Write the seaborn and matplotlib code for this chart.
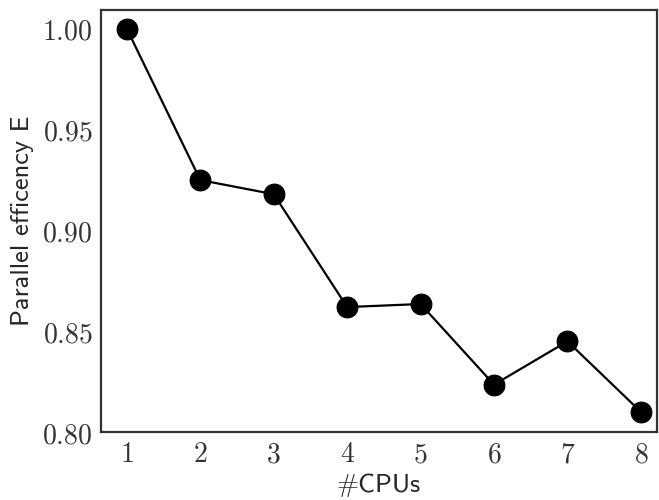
import matplotlib
matplotlib.use("Agg")
import matplotlib.pyplot as plt
import seaborn as sns
import pandas as pd

cpus = [1, 2, 3, 4, 5, 6, 7, 8]
efficiency = [1.000, 0.925, 0.918, 0.862, 0.8635, 0.8235, 0.845, 0.810]

sns.set_style("white")
plt.rcParams["mathtext.fontset"] = "cm"
plt.rcParams["axes.edgecolor"] = "#333333"
plt.rcParams["axes.linewidth"] = 1.6

df = pd.DataFrame({"cpus": cpus, "eff": efficiency})

fig, ax = plt.subplots(figsize=(6.59, 5.0), dpi=100)
sns.lineplot(data=df, x="cpus", y="eff", marker="o", color="black",
             markersize=15, linewidth=1.6, markeredgecolor="black", ax=ax)

ax.set_xlim(0.645, 8.22)
ax.set_ylim(0.80, 1.0094)
ax.set_xticks(cpus)
ax.set_yticks([0.80, 0.85, 0.90, 0.95, 1.00])
ax.set_xticklabels([f"${c}$" for c in cpus], fontsize=20)
ax.set_yticklabels([f"${v:.2f}$" for v in [0.80, 0.85, 0.90, 0.95, 1.00]], fontsize=20)
ax.tick_params(length=0, pad=6, colors="#333333")
ax.set_xlabel(r"$\#$CPUs", family="cmss10", fontsize=19, labelpad=2)
ax.set_ylabel("Parallel efficency E", family="cmss10", fontsize=19, labelpad=6)

fig.subplots_adjust(left=0.153, right=0.997, top=0.98, bottom=0.136)
fig.savefig("out.png")
